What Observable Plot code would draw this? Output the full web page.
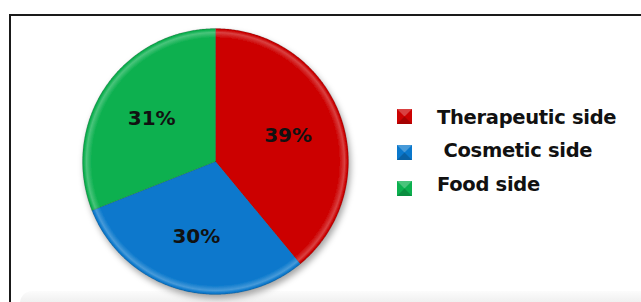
<!DOCTYPE html>
<html><head><meta charset="utf-8">
<script src="https://cdn.jsdelivr.net/npm/d3@7"></script>
<script src="https://cdn.jsdelivr.net/npm/@observablehq/plot@0.6"></script>
<style>
html,body{margin:0;padding:0;background:#fff;}
#wrap{position:relative;width:641px;height:302px;overflow:hidden;background:#fff;font-family:"DejaVu Sans",sans-serif;}
#frame{position:absolute;left:9px;top:14px;width:700px;height:400px;border-top:2px solid #1a1a1a;border-left:2px solid #1a1a1a;}
#shade{position:absolute;left:20px;top:291px;width:640px;height:20px;background:linear-gradient(#fcfcfc,#e6e6e6);border-radius:12px 0 0 0;}
#chart{position:absolute;left:0;top:0;}
.item{position:absolute;white-space:pre;font-weight:700;font-size:19.5px;color:#111;line-height:1;letter-spacing:-0.3px;}
.sw{position:absolute;width:1px;height:1px;border-style:solid;border-width:7px;}
</style></head><body>
<div id="wrap"><div id="frame"></div><div id="shade"></div><div id="chart"></div></div>
<script>
const categories = ["Therapeutic side", " Cosmetic side", "Food side"];
const shares = [39, 30, 31];
const colors = ["#cc0202", "#0a78cc", "#0cb04f"];

// slice outlines computed from the shares (angles clockwise from 12 o'clock)
const total = d3.sum(shares);
const slices = [];
const labels = [];
let acc = 0;
categories.forEach((c, i) => {
  const a0 = acc / total * 2 * Math.PI;
  acc += shares[i];
  const a1 = acc / total * 2 * Math.PI;
  slices.push({category: c, x: 0, y: 0});
  const n = Math.max(2, Math.ceil((a1 - a0) / (Math.PI / 360)));
  for (let k = 0; k <= n; k++) {
    const a = a0 + (a1 - a0) * k / n;
    slices.push({category: c, x: Math.sin(a), y: Math.cos(a)});
  }
  slices.push({category: c, x: 0, y: 0});
  const am = (a0 + a1) / 2, r = 0.58;
  labels.push({category: c, x: r * Math.sin(am), y: r * Math.cos(am), text: shares[i] + "%"});
});

const gradIds = categories.map((c, i) => "grad" + i);

const plot = Plot.plot({
  width: 641, height: 302,
  marginTop: 0, marginRight: 0, marginBottom: 0, marginLeft: 0,
  style: {fontFamily: "'DejaVu Sans', sans-serif", background: "transparent", overflow: "visible"},
  x: {domain: [-1, 1], range: [82, 348], axis: null},
  y: {domain: [-1, 1], range: [294, 28], axis: null},
  color: {domain: categories, range: gradIds.map(id => `url(#${id})`)},
  marks: [
    Plot.line(slices, {x: "x", y: "y", z: "category", fill: "category", stroke: "#000", strokeOpacity: 0.12, strokeWidth: 1}),
    Plot.text(labels, {x: "x", y: "y", text: "text", fontSize: 20, fontWeight: "bold", fill: "#111"})
  ]
});

// gradients & shadow
const svg = d3.select(plot);
const sx = plot.scale("x"), sy = plot.scale("y");
const cx = sx.apply(0), cy = sy.apply(0), R = sx.apply(1) - cx;
const defs = svg.insert("defs", ":first-child");
colors.forEach((col, i) => {
  const base = d3.color(col);
  const light = d3.interpolateRgb(col, "#ffffff")(0.25);
  const dark = base.darker(0.35).formatHex();
  const g = defs.append("radialGradient").attr("id", gradIds[i])
    .attr("gradientUnits", "userSpaceOnUse").attr("cx", cx).attr("cy", cy).attr("r", R);
  [[0, col], [0.93, col], [0.97, light], [0.99, col], [1, dark]].forEach(([o, c]) =>
    g.append("stop").attr("offset", o).attr("stop-color", c));
});
const f = defs.append("filter").attr("id", "shadow").attr("x", "-20%").attr("y", "-20%").attr("width", "140%").attr("height", "140%");
f.append("feDropShadow").attr("dx", 2).attr("dy", 4).attr("stdDeviation", 3).attr("flood-color", "#000").attr("flood-opacity", 0.35);
svg.select('g[aria-label="line"]').attr("filter", "url(#shadow)");

document.getElementById("chart").appendChild(plot);

// legend
const wrap = document.getElementById("wrap");
const bevel = col => {
  const c = d3.color(col);
  return {
    top: d3.interpolateRgb(col, "#ffffff")(0.25),
    side: col,
    bottom: c.darker(0.6).formatHex()
  };
};
categories.forEach((c, i) => {
  const b = bevel(colors[i]);
  const sw = document.createElement("div");
  sw.className = "sw";
  sw.style.left = "397px";
  sw.style.top = (109 + 36 * i) + "px";
  sw.style.borderColor = `${b.top} ${b.side} ${b.bottom} ${b.side}`;
  sw.style.background = colors[i];
  wrap.appendChild(sw);
  const t = document.createElement("div");
  t.className = "item";
  t.textContent = c;
  t.style.left = "437px";
  t.style.top = (107.5 + 33.5 * i) + "px";
  wrap.appendChild(t);
});
</script>
</body></html>
